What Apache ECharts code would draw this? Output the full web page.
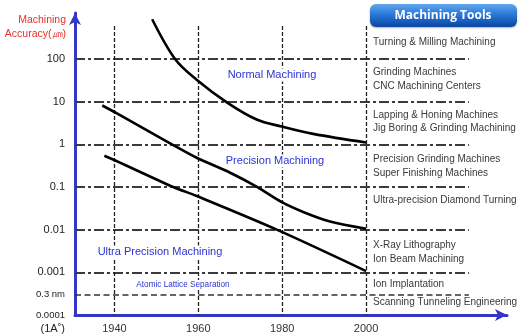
<!DOCTYPE html>
<html><head><meta charset="utf-8">
<script src="https://cdn.jsdelivr.net/npm/echarts@6/dist/echarts.min.js"></script>
<style>html,body{margin:0;padding:0;background:#fff}#c{width:519px;height:335px}</style>
</head><body><div id="c"></div>
<script>
// ---- data (years, accuracy in µm) ----
const normalYears = [1949.0, 1954.5, 1959.6, 1966.8, 1973.9, 1979.9, 1987.4, 2000.0];
const normalValues = [850, 98, 32.5, 9.6, 3.8, 2.6, 1.75, 1.1];
const precisionYears = [1937.1, 1940.6, 1953.7, 1959.5, 1967.6, 1974.0, 1979.9, 1985.0, 1991.4, 2000.0];
const precisionValues = [8.1, 5.3, 1.0, 0.49, 0.215, 0.1, 0.044, 0.026, 0.0155, 0.0105];
const ultraYears = [1937.6, 1940.6, 1954.0, 1959.5, 1978.7, 2000.0];
const ultraValues = [0.54, 0.4, 0.1, 0.062, 0.01, 0.00107];
const xTickLabels = ['1940', '1960', '1980', '2000'];
const yTickValues = [100, 10, 1, 0.1, 0.01, 0.001, 0.0001];
const yTickLabels = ['100', '10', '1', '0.1', '0.01', '0.001', '0.0001'];
const gridYears = [1940, 1960, 1980, 2000];
const gridValues = [100, 10, 1, 0.1, 0.01, 0.001];
const atomicValue = 0.0003;           // 0.3 nm in µm
const atomicLabel = '0.3 nm';
const angstromLabel = '(1A˚)';
const regionNames = ['Normal Machining', 'Precision Machining', 'Ultra Precision Machining', 'Atomic Lattice Separation'];
const toolGroups = [
  ['Turning & Milling Machining'],
  ['Grinding Machines', 'CNC Machining Centers'],
  ['Lapping & Honing Machines', 'Jig Boring & Grinding Machining'],
  ['Precision Grinding Machines', 'Super Finishing Machines'],
  ['Ultra-precision Diamond Turning'],
  ['X-Ray Lithography', 'Ion Beam Machining'],
  ['Ion Implantation'],
  ['Scanning Tunneling Engineering']
];
const headerTitle = 'Machining Tools';
const yAxisTitle = 'Machining\nAccuracy(㎛)';

// ---- layout / style ----
const FONT = 'Liberation Sans, Arial, sans-serif';
const xMin = 1930.6, xMax = 2033.6, yMin = 0.0001, yMax = 1190;
const lineEndYear = 2024.5, vTop = 590;
const toolY = [42, 79, 121.5, 166, 200, 252, 284, 302.5];
const regionPos = [[272, 75, 11], [275, 161, 11], [160, 252, 11], [183, 285, 8.2]];

function pairs(xs, ys) { return xs.map((x, i) => [x, ys[i]]); }
function isDecade(v) { const l = Math.log10(v); return Math.abs(l - Math.round(l)) < 1e-6; }

const chart = echarts.init(document.getElementById('c'), null, {renderer: 'canvas'});

const hLines = gridValues.map(v => [{coord: [xMin, v]}, {coord: [lineEndYear, v]}]);
const vLines = gridYears.map(y => [{coord: [y, vTop]}, {coord: [y, yMin]}]);

const curveStyle = {color: '#000', width: 2.6};

const graphics = [];
graphics.push({type: 'text', x: 66, y: 27, z: 100, style: {text: yAxisTitle, fill: '#e8302a', fontSize: 10.5, fontFamily: FONT, align: 'right', verticalAlign: 'middle', lineHeight: 14}});
graphics.push({type: 'text', x: 65, y: 329, z: 100, style: {text: angstromLabel, fill: '#222', fontSize: 11, fontFamily: FONT, align: 'right', verticalAlign: 'middle'}});
regionNames.forEach((t, i) => {
  const p = regionPos[i];
  graphics.push({type: 'text', x: p[0], y: p[1], z: 100, style: {text: t, fill: '#2b32d4', fontSize: p[2], fontFamily: FONT, align: 'center', verticalAlign: 'middle', backgroundColor: '#fff', padding: [1, 2]}});
});
toolGroups.forEach((g, i) => {
  graphics.push({type: 'text', x: 373, y: toolY[i], z: 100, style: {text: g.join('\n'), fill: '#3a3a3a', fontSize: 10, fontFamily: FONT, align: 'left', verticalAlign: 'middle', lineHeight: 13.5}});
});
graphics.push({type: 'rect', z: 100, shape: {x: 370, y: 4, width: 147, height: 23, r: 6},
  style: {fill: new echarts.graphic.LinearGradient(0, 0, 0, 1, [
    {offset: 0, color: '#62a6ee'}, {offset: 0.45, color: '#2a78d8'}, {offset: 1, color: '#0b46a2'}]),
    shadowBlur: 2, shadowColor: 'rgba(0,0,0,0.3)', shadowOffsetY: 1}});
graphics.push({type: 'text', x: 443, y: 15.5, z: 101, style: {text: headerTitle, fill: '#fff', fontSize: 12, fontWeight: 'bold', fontFamily: 'Open Sans, ' + FONT, align: 'center', verticalAlign: 'middle'}});

chart.setOption({
  animation: false,
  grid: {left: 75, right: 12, top: 13, bottom: 20, containLabel: false},
  xAxis: {
    type: 'value', min: xMin, max: xMax, splitNumber: 5,
    splitLine: {show: false}, axisTick: {show: false},
    axisLine: {lineStyle: {color: '#3535c8', width: 3}, symbol: ['none', 'arrow'], symbolSize: [9, 12]},
    axisLabel: {
      fontSize: 11, color: '#333', margin: 8, fontFamily: FONT,
      formatter: v => { const s = String(Math.round(v)); return (Math.abs(v - Math.round(v)) < 1e-6 && xTickLabels.includes(s)) ? s : ''; }
    }
  },
  yAxis: {
    type: 'log', logBase: 10, min: yMin, max: yMax, splitNumber: 7,
    splitLine: {show: false}, axisTick: {show: false},
    axisLine: {lineStyle: {color: '#3535c8', width: 3}, symbol: ['none', 'arrow'], symbolSize: [9, 12]},
    axisLabel: {
      margin: 10, color: '#222', fontFamily: FONT,
      formatter: v => {
        if (!isDecade(v)) return '';
        const idx = yTickValues.findIndex(t => Math.abs(Math.log10(t) - Math.log10(v)) < 1e-6);
        if (idx < 0) return '';
        return (yTickValues[idx] === yMin ? '{s|' : '{n|') + yTickLabels[idx] + '}';
      },
      rich: {n: {fontSize: 11, color: '#222', fontFamily: FONT}, s: {fontSize: 9.5, color: '#222', fontFamily: FONT}}
    }
  },
  graphic: graphics,
  series: [
    {type: 'line', data: [], z: 1, silent: true,
      markLine: {silent: true, symbol: ['none', 'none'], animation: false, label: {show: false},
        lineStyle: {color: '#3c3c3c', width: 1.8, type: [10, 3, 3, 3]}, data: hLines}},
    {type: 'line', data: [], z: 1, silent: true,
      markLine: {silent: true, symbol: ['none', 'none'], animation: false, label: {show: false},
        lineStyle: {color: '#222', width: 1.3, type: [4, 2]}, data: vLines}},
    {type: 'line', data: [], z: 1, silent: true,
      markLine: {silent: true, symbol: ['none', 'none'], animation: false,
        label: {show: true, position: 'start', distance: 10, formatter: atomicLabel, fontSize: 9.5, color: '#222', fontFamily: FONT},
        lineStyle: {color: '#333', width: 1.6, type: [6, 3.5]},
        data: [[{coord: [xMin, atomicValue]}, {coord: [lineEndYear, atomicValue]}]]}},
    {type: 'line', name: 'Normal', data: pairs(normalYears, normalValues), smooth: 0.35, symbol: 'none', lineStyle: curveStyle, z: 5},
    {type: 'line', name: 'Precision', data: pairs(precisionYears, precisionValues), smooth: 0.3, symbol: 'none', lineStyle: curveStyle, z: 5},
    {type: 'line', name: 'Ultra', data: pairs(ultraYears, ultraValues), smooth: 0.3, symbol: 'none', lineStyle: curveStyle, z: 5}
  ]
});
</script></body></html>
